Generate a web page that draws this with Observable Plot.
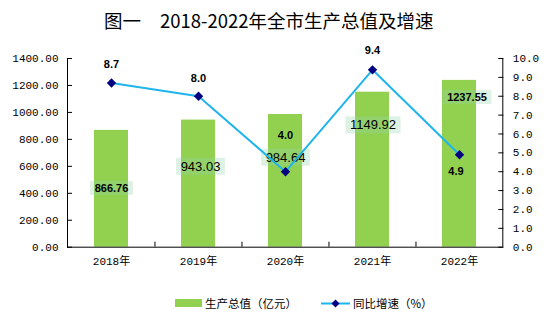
<!DOCTYPE html>
<html><head><meta charset="utf-8">
<script src="https://cdn.jsdelivr.net/npm/d3@7"></script>
<script src="https://cdn.jsdelivr.net/npm/@observablehq/plot@0.6"></script>
<style>
body{margin:0;background:#fff;width:558px;height:332px;position:relative;overflow:hidden;font-family:"Noto Sans CJK SC",sans-serif;color:#000;}
.title{position:absolute;top:7px;font-size:18.5px;line-height:26px;white-space:nowrap;}
#chart{position:absolute;top:40px;left:0;}
.lt{position:absolute;top:294px;font-size:11.5px;line-height:18px;white-space:nowrap;}
</style></head><body>
<div class="title" style="left:104px">图一</div>
<div class="title" style="left:160px">2018-2022年全市生产总值及增速</div>
<div id="chart"></div>
<div style="position:absolute;left:175px;top:299px;width:27px;height:8px;background:#92D050"></div>
<div class="lt" style="left:205px">生产总值（亿元）</div>
<svg style="position:absolute;left:321px;top:298px" width="30" height="11">
  <line x1="0" y1="5.5" x2="29" y2="5.5" stroke="#1FB5EC" stroke-width="2"/>
  <path d="M14.5,1.5 L18.5,5.5 L14.5,9.5 L10.5,5.5Z" fill="#000080"/>
</svg>
<div class="lt" style="left:353px">同比增速（%）</div>
<script>
// ---- data ----
const years = ["2018年", "2019年", "2020年", "2021年", "2022年"];
const gdp = [866.76, 943.03, 984.64, 1149.92, 1237.55];
const growth = [8.7, 8.0, 4.0, 9.4, 4.9];
const leftTicks = [0, 200, 400, 600, 800, 1000, 1200, 1400];
const rightTicks = [0, 1, 2, 3, 4, 5, 6, 7, 8, 9, 10];

// ---- style config ----
const K = 1400 / 10; // right axis -> left axis units
const barNudge = [[0, 58, "bold", 11], [2, 46.5, "normal", 13], [0, 43, "normal", 13], [0.5, 33, "normal", 13], [7.5, 17, "bold", 11]];
const lineNudge = [[0, -19], [0, -18], [0, -36], [0, -19], [-3.5, 17]];

const rows = years.map((y, i) => ({year: y, gdp: gdp[i], g: growth[i]}));
const sans = "Liberation Sans, Arial, sans-serif";
const mono = "Liberation Mono, 'Noto Sans CJK SC', monospace";

const H = 245, mt = 18, mb = 38.3;
const plotH = H - mt - mb;
const tickUnits = 5 * 1400 / plotH;
const half = (558 - 67 - 55.7) / 5 / 2;

const marks = [
  Plot.barY(rows, {x: "year", y: "gdp", fill: "#92D050"}),
  ...rows.map((d, i) => Plot.text([d], {
    x: "year", y: "gdp", text: d => d.gdp.toFixed(2),
    dx: barNudge[i][0], dy: barNudge[i][1], fontWeight: barNudge[i][2], fontSize: barNudge[i][3],
    fontFamily: sans, fill: "#000"
  })),
  Plot.line(rows, {x: "year", y: d => d.g * K, stroke: "#1FB5EC", strokeWidth: 2}),
  Plot.dot(rows, {x: "year", y: d => d.g * K, symbol: "diamond2", r: 4.2, fill: "#000080", stroke: "none"}),
  ...rows.map((d, i) => Plot.text([d], {
    x: "year", y: d => d.g * K, text: d => d.g.toFixed(1),
    dx: lineNudge[i][0], dy: lineNudge[i][1], fontWeight: "bold", fontSize: 11, fontFamily: sans, fill: "#000"
  })),
  Plot.ruleY([0], {stroke: "#000"}),
  Plot.ruleX(years.slice(1), {x: d => d, dx: -half, y1: 0, y2: tickUnits, stroke: "#000"}),
  Plot.frame({anchor: "left", stroke: "#000"}),
  Plot.frame({anchor: "right", stroke: "#000"}),
  Plot.axisY(leftTicks, {anchor: "left", label: null, tickSize: 0, tickPadding: 9, tickFormat: d => d.toFixed(2), fontFamily: mono, fontSize: 11, fill: "#000"}),
  Plot.axisY(leftTicks, {anchor: "left", label: null, tickSize: 5, dx: 5, tickFormat: () => "", stroke: "#000"}),
  Plot.axisY(rightTicks.map(v => v * K), {anchor: "right", label: null, tickSize: 0, tickPadding: 10, tickFormat: d => (d / K).toFixed(1), fontFamily: mono, fontSize: 11, fill: "#000"}),
  Plot.axisY(rightTicks.map(v => v * K), {anchor: "right", label: null, tickSize: 5, dx: -5, tickFormat: () => "", stroke: "#000"}),
  Plot.axisX({label: null, tickSize: 0, tickPadding: 10, fontFamily: mono, fontSize: 11, fill: "#000"})
];

const chart = Plot.plot({
  width: 558, height: H,
  marginTop: mt, marginBottom: mb, marginLeft: 67, marginRight: 55.7,
  style: {background: "#fff", overflow: "visible"},
  x: {domain: years, paddingInner: 0.61, paddingOuter: 0.305, axis: null, label: null},
  y: {domain: [0, 1400], axis: null, label: null},
  marks
});
document.getElementById("chart").appendChild(chart);

// light background boxes behind the bar value labels
const boxed = new Set(gdp.map(v => v.toFixed(2)));
chart.querySelectorAll("text").forEach(t => {
  if (!boxed.has(t.textContent.trim())) return;
  const b = t.getBBox();
  const padX = 4.5, padY = 2;
  const r = document.createElementNS("http://www.w3.org/2000/svg", "rect");
  r.setAttribute("x", b.x - padX);
  r.setAttribute("y", b.y - padY + 1);
  r.setAttribute("width", b.width + 2 * padX);
  r.setAttribute("height", b.height + 2 * padY - 2);
  r.setAttribute("fill", "rgba(150,210,170,0.32)");
  const tr = t.getAttribute("transform");
  if (tr) r.setAttribute("transform", tr);
  t.parentNode.insertBefore(r, t);
});
</script>
</body></html>
